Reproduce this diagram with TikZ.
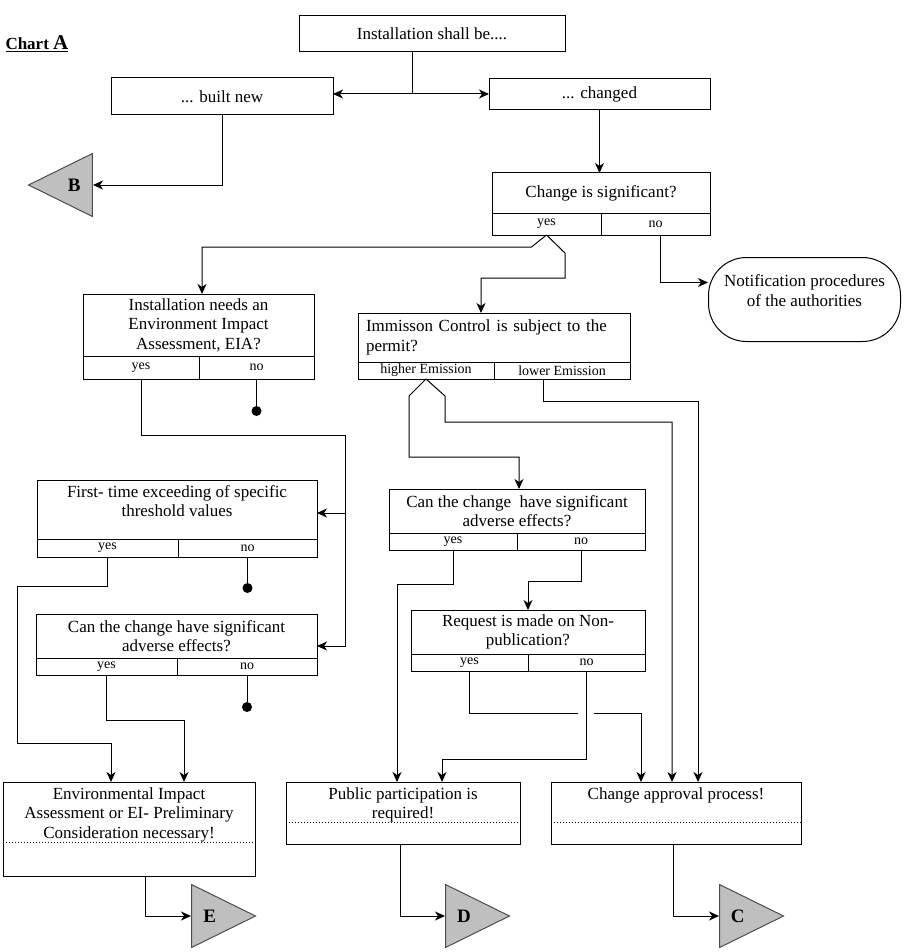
\documentclass[tikz,border=0pt]{standalone}
\usepackage{fontspec}
\setmainfont{Liberation Serif}
\usetikzlibrary{arrows.meta, shapes.geometric, positioning}

\newcommand{\boxfont}{\fontsize{17}{19.5}\selectfont}
\newcommand{\cellfont}{\fontsize{14}{15}\selectfont}

\begin{document}
\begin{tikzpicture}[x=1pt, y=-1pt, line width=1pt,
    >={Stealth[length=10pt, width=9pt, inset=3pt]},
    box/.style={draw, rectangle, anchor=north west, inner sep=2pt, outer sep=0pt, align=center, font=\boxfont},
    cell/.style={draw, rectangle, anchor=north west, inner sep=0pt, outer sep=0pt, font=\cellfont},
    flag/.style={draw=black!70, fill=black!25, isosceles triangle, isosceles triangle stretches,
        minimum width=63, minimum height=64, inner sep=0pt, font=\fontsize{19}{19}\selectfont\bfseries},
    dot/.style={circle, fill, inner sep=0pt, minimum size=10}]
    \useasboundingbox (0,0) rectangle (907,952);

    % Tiêu đề
    \node[anchor=base west, inner sep=0pt] (title) at (5,50)
        {\underline{\fontsize{17}{17}\selectfont\bfseries Chart {\fontsize{21}{21}\selectfont A}}};

    % Hộp phía trên
    \node[box, minimum width=266, minimum height=36] (inst) at (299,16) {Installation shall be....};
    \node[box, minimum width=222, minimum height=37] (built) at (111,78) {... built new};
    \node[box, minimum width=221, minimum height=31] (changed) at (489,79) {... changed};

    \node[box, minimum width=218, minimum height=40] (sig) at (492,173) {Change is significant?};
    \node[cell, minimum width=109, minimum height=22] (sig-y) at (sig.south west) {yes};
    \node[cell, minimum width=109, minimum height=22] (sig-n) at (sig-y.north east) {no};

    \node[draw, rounded corners=38, minimum width=192, minimum height=84, anchor=north west,
        align=center, font=\boxfont, inner ysep=0pt, text height=48.5pt, text depth=35.5pt]
        (notif) at (708,257) {Notification procedures\\of the authorities};

    % Nhánh trái
    \node[box, minimum width=231, minimum height=62] (eia) at (83,294)
        {Installation needs an\\Environment Impact\\Assessment, EIA?};
    \node[cell, minimum width=116, minimum height=23] (eia-y) at (eia.south west) {yes};
    \node[cell, minimum width=115, minimum height=23] (eia-n) at (eia-y.north east) {no};

    \node[box, minimum width=280, minimum height=59, inner ysep=0pt, text height=36.5pt, text depth=22.5pt]
        (first) at (37,480) {First- time exceeding of specific\\threshold values};
    \node[cell, minimum width=141, minimum height=18] (first-y) at (first.south west) {yes};
    \node[cell, minimum width=139, minimum height=18] (first-n) at (first-y.north east) {no};

    \node[box, minimum width=281, minimum height=44] (canl) at (36,614)
        {Can the change have significant\\adverse effects?};
    \node[cell, minimum width=141, minimum height=17] (canl-y) at (canl.south west) {yes};
    \node[cell, minimum width=140, minimum height=17] (canl-n) at (canl-y.north east) {no};

    \node[dot] (d1) at ([yshift=-32pt]eia-n.south) {};
    \node[dot] (d2) at ([yshift=-31pt]first-n.south) {};
    \node[dot] (d3) at ([yshift=-32pt]canl-n.south) {};

    % Nhánh giữa
    \node[box, minimum width=272, minimum height=49, text width=256, align=left, inner xsep=8pt]
        (imm) at (358,313) {Immisson Control is subject to the\\permit?};
    \node[cell, minimum width=136, minimum height=17] (imm-h) at (imm.south west) {higher Emission};
    \node[cell, minimum width=136, minimum height=17] (imm-l) at (imm-h.north east) {lower Emission};

    \node[box, minimum width=256, minimum height=44] (canr) at (389,489)
        {Can the change~ have significant\\adverse effects?};
    \node[cell, minimum width=128, minimum height=17] (canr-y) at (canr.south west) {yes};
    \node[cell, minimum width=128, minimum height=17] (canr-n) at (canr-y.north east) {no};

    \node[box, minimum width=234, minimum height=44] (req) at (411,610)
        {Request is made on Non-\\publication?};
    \node[cell, minimum width=117, minimum height=17] (req-y) at (req.south west) {yes};
    \node[cell, minimum width=117, minimum height=17] (req-n) at (req-y.north east) {no};

    % Kết quả
    \node[box, minimum width=252, minimum height=94, inner ysep=0pt, text height=56pt, text depth=38pt]
        (eiac) at (3,782) {Environmental Impact\\Assessment or EI- Preliminary\\Consideration necessary!};
    \draw[dotted] ([yshift=-60pt]eiac.north west) -- ([yshift=-60pt]eiac.north east);
    \node[box, minimum width=234, minimum height=62, inner ysep=0pt, text height=36.5pt, text depth=25.5pt]
        (pp) at (286,782) {Public participation is\\required!};
    \draw[dotted] ([yshift=-40pt]pp.north west) -- ([yshift=-40pt]pp.north east);
    \node[box, minimum width=250, minimum height=62, inner ysep=0pt, text height=17pt, text depth=45pt]
        (appr) at (551,782) {Change approval process!};
    \draw[dotted] ([yshift=-40pt]appr.north west) -- ([yshift=-40pt]appr.north east);

    \node[flag, shape border rotate=180, anchor=east] (tB) at (93,185) {B\hspace{16pt}};
    \node[flag, anchor=west] (tE) at (191,916) {E};
    \node[flag, anchor=west] (tD) at (445,916) {D};
    \node[flag, anchor=west] (tC) at (719,916) {C};

    % Mũi tên
    \coordinate (fork) at (412,94);
    \draw (fork |- inst.south) -- (fork);
    \draw[->] (fork) -- (fork -| built.east);
    \draw[->] (fork) -- (fork -| changed.west);
    \draw[->] (built.south) |- (tB.east);
    \draw[->] (changed.south) -- (changed.south |- sig.north);
    \draw[->] (sig-y.south) -- ++(-15,12) -| ([xshift=3.5pt]eia.north);
    \draw[->] (sig-y.south) -- ++(18.5,18) -- ++(0,25) -| ([xshift=-13pt]imm.north);
    \draw[->] ([xshift=5pt]sig-n.south) |- ([yshift=17pt]notif.west);

    \coordinate (bus) at (345,435);
    \draw (eia-y.south) |- (bus);
    \draw[->] (bus) |- ([yshift=-3.5pt]first.east);
    \draw[->] (bus) |- ([yshift=-10pt]canl.east);
    \draw (eia-n.south) -- (d1);
    \draw[->] (first-y.south) -- ++(0,29) -| ++(-90,157) -| ([xshift=-18pt]eiac.north);
    \draw (first-n.south) -- (d2);
    \draw[->] (canl-y.south) -- ++(0,45) -| ([xshift=55pt]eiac.north);
    \draw (canl-n.south) -- (d3);
    \draw[->] ([xshift=16pt]eiac.south) |- (tE.west);

    \draw[->] (imm-h.south) -- ++(-17,17) -- ++(0,61) -| ([xshift=2pt]canr.north);
    \draw[->] (imm-h.south) -- ++(19,17) -- ++(0,26) -| ([xshift=-4pt]appr.north);
    \draw[->] ([xshift=-19pt]imm-l.south) -- ++(0,22) -| ([xshift=22pt]appr.north);
    \draw[->] (canr-y.south) -- ++(0,34) -| ([xshift=-6pt]pp.north);
    \draw[->] (canr-n.south) -- ++(0,31) -| (req.north);

    \coordinate (gapL) at (578,713);
    \coordinate (gapR) at (594,713);
    \draw (req-y.south) |- (gapL);
    \draw[->] (gapR) -| ([xshift=-35pt]appr.north);
    \draw[->] (req-n.south) -- ++(0,88) -| ([xshift=39pt]pp.north);
    \draw[->] ([xshift=-3pt]pp.south) |- (tD.west);
    \draw[->] ([xshift=-3pt]appr.south) |- (tC.west);
\end{tikzpicture}
\end{document}
